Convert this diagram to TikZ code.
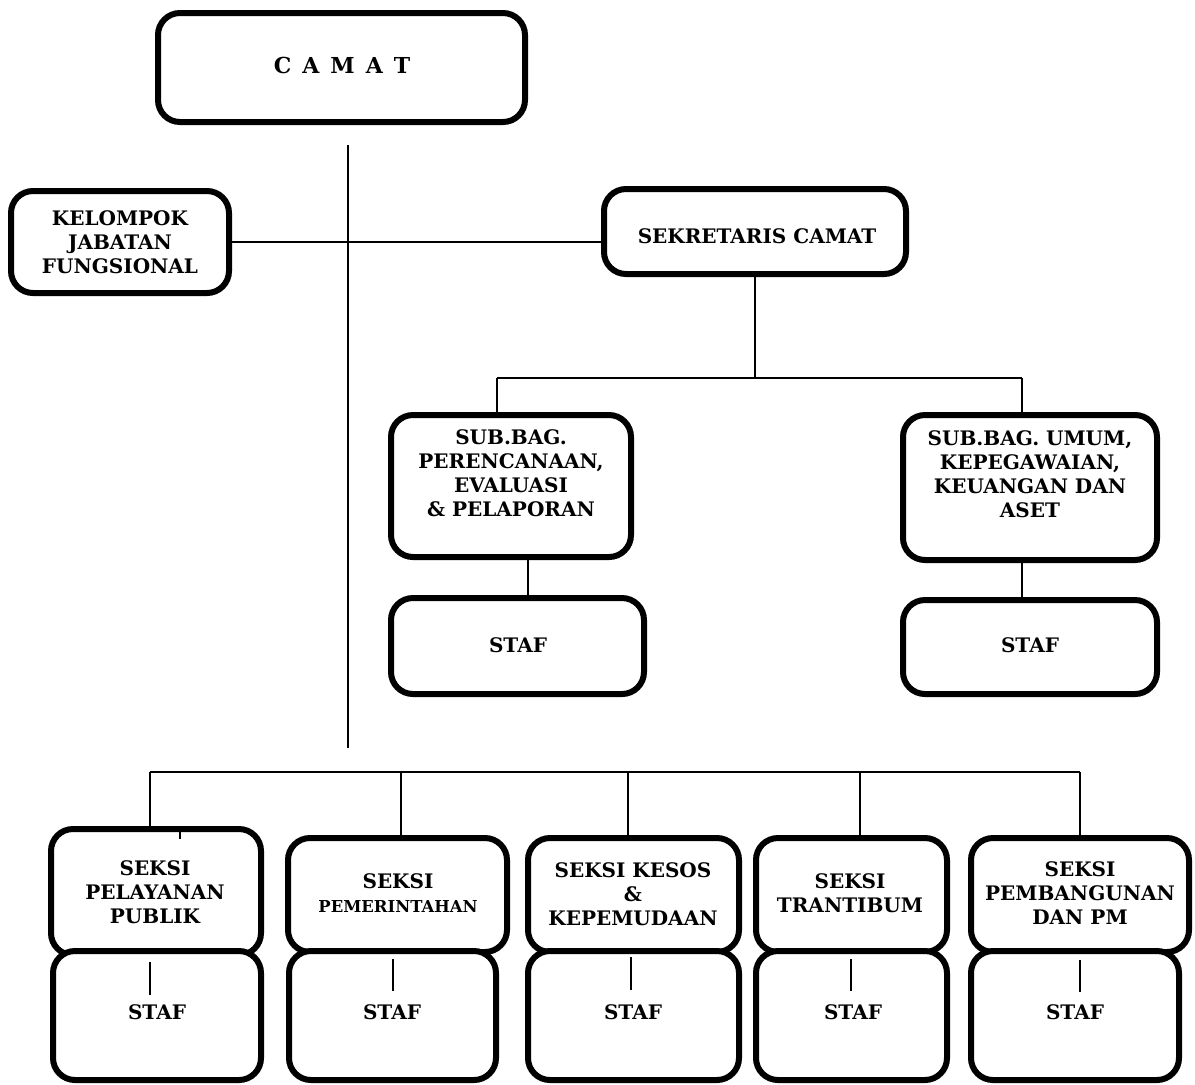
\documentclass[tikz,border=0pt]{standalone}
\usepackage{fontspec}
\setmainfont{DejaVu Serif}
\begin{document}
\begin{tikzpicture}[x=0.5pt,y=-0.5pt,
  box/.style={draw, line width=3pt, rounded corners=11pt, fill=white, inner sep=0pt},
  lbl/.style={font=\fontsize{10}{12}\selectfont\bfseries, align=center, inner sep=0pt},
  conn/.style={line width=1pt},
  tick/.style={line width=1.2pt}]
\useasboundingbox (0,0) rectangle (1195,1084);
% ---------- top part ----------
\node[box, minimum width=183.5pt, minimum height=54.5pt] (camat) at (341.5,67.5) {};
\node[lbl, font=\fontsize{11}{12}\selectfont\bfseries] (tcamat) at (342,65) {C\hspace{5.5pt}A\hspace{5.5pt}M\hspace{5.5pt}A\hspace{5.5pt}T};
\node[box, minimum width=109pt, minimum height=51pt] (kel) at (120,242) {};
\node[lbl] (tkel) at (120,242) {KELOMPOK\\JABATAN\\FUNGSIONAL};
\node[box, minimum width=151pt, minimum height=42.5pt] (sek) at (755,231.5) {};
\node[lbl] (tsek) at (757,236) {SEKRETARIS CAMAT};
\node[box, minimum width=120pt, minimum height=71pt] (sub1) at (511,486) {};
\node[lbl] (tsub1) at (511,473) {SUB.BAG.\\PERENCANAAN,\\EVALUASI\\\& PELAPORAN};
\node[box, minimum width=126.5pt, minimum height=48pt] (staf1) at (517.5,646) {};
\node[lbl] (tstaf1) at (518,645) {STAF};
\node[box, minimum width=127pt, minimum height=72.5pt] (sub2) at (1030,487.5) {};
\node[lbl] (tsub2) at (1030,474) {SUB.BAG. UMUM,\\KEPEGAWAIAN,\\KEUANGAN DAN\\ASET};
\node[box, minimum width=127pt, minimum height=47pt] (staf2) at (1030,647) {};
\node[lbl] (tstaf2) at (1030,645) {STAF};
% connectors top
\coordinate (mtop) at (348,145);
\coordinate (mbot) at (348,748);
\coordinate (mj) at (348,242);
\draw[conn] (mtop) -- (mbot);
\draw[conn] (kel.east) -- (kel.east -| mtop);
\draw[conn] (mj) -- (mj -| sek.west);
\coordinate (sbus) at (755,378);
\coordinate (sbusl) at (497,378);
\coordinate (sbusr) at (1022,378);
\draw[conn] (sek.south) -- (sbus);
\draw[conn] (sbusl) -- (sbusr);
\draw[conn] (sbusl) -- (sbusl |- sub1.north);
\draw[conn] (sbusr) -- (sbusr |- sub2.north);
\coordinate (v1) at (528,570);
\draw[conn] (sub1.south -| v1) -- (staf1.north -| v1);
\draw[conn] (sub2.south -| sbusr) -- (staf2.north -| sbusr);
% ---------- bottom row ----------
\node[box, minimum width=105pt, minimum height=63pt] (s1) at (156,892) {};
\node[box, minimum width=109.5pt, minimum height=57pt] (s2) at (397.5,895) {};
\node[box, minimum width=105.5pt, minimum height=57pt] (s3) at (633.5,895) {};
\node[box, minimum width=95.5pt, minimum height=57pt] (s4) at (851.5,895) {};
\node[box, minimum width=109pt, minimum height=57pt] (s5) at (1080,895) {};
\node[lbl] (ts1) at (155,892) {SEKSI\\PELAYANAN\\PUBLIK};
\node[lbl] (ts2) at (398,893) {SEKSI\\{\fontsize{8.2}{10}\selectfont PEMERINTAHAN}};
\node[lbl] (ts3) at (633,894) {SEKSI KESOS\\\&\\KEPEMUDAAN};
\node[lbl] (ts4) at (850,893) {SEKSI\\TRANTIBUM};
\node[lbl] (ts5) at (1080,893) {SEKSI\\PEMBANGUNAN\\DAN PM};
\node[box, minimum width=104pt, minimum height=64.5pt] (st1) at (157,1015.5) {};
\node[box, minimum width=103.5pt, minimum height=64.5pt] (st2) at (392.5,1015.5) {};
\node[box, minimum width=105.5pt, minimum height=64.5pt] (st3) at (633.5,1015.5) {};
\node[box, minimum width=95.5pt, minimum height=64.5pt] (st4) at (851.5,1015.5) {};
\node[box, minimum width=104pt, minimum height=64.5pt] (st5) at (1075,1015.5) {};
\node[lbl] (tst1) at (157,1012) {STAF};
\node[lbl] (tst2) at (392,1012) {STAF};
\node[lbl] (tst3) at (633,1012) {STAF};
\node[lbl] (tst4) at (853,1012) {STAF};
\node[lbl] (tst5) at (1075,1012) {STAF};
% bottom bus
\coordinate (bb1) at (150,772);
\coordinate (bb2) at (401,772);
\coordinate (bb3) at (628,772);
\coordinate (bb4) at (860,772);
\coordinate (bb5) at (1080,772);
\draw[conn] (bb1) -- (bb5);
\draw[conn] (bb1) -- (bb1 |- s1.north);
\draw[conn] (bb2) -- (bb2 |- s2.north);
\draw[conn] (bb3) -- (bb3 |- s3.north);
\draw[conn] (bb4) -- (bb4 |- s4.north);
\draw[conn] (bb5) -- (bb5 |- s5.north);
% small ticks
\coordinate (k0a) at (180,830); \coordinate (k0b) at (180,839);
\draw[tick] (k0a) -- (k0b);
\coordinate (k1a) at (150,962); \coordinate (k1b) at (150,995);
\coordinate (k2a) at (393,959); \coordinate (k2b) at (393,991);
\coordinate (k3a) at (631,957); \coordinate (k3b) at (631,990);
\coordinate (k4a) at (851,959); \coordinate (k4b) at (851,991);
\coordinate (k5a) at (1080,960); \coordinate (k5b) at (1080,992);
\draw[tick] (k1a) -- (k1b);
\draw[tick] (k2a) -- (k2b);
\draw[tick] (k3a) -- (k3b);
\draw[tick] (k4a) -- (k4b);
\draw[tick] (k5a) -- (k5b);
\end{tikzpicture}
\end{document}
